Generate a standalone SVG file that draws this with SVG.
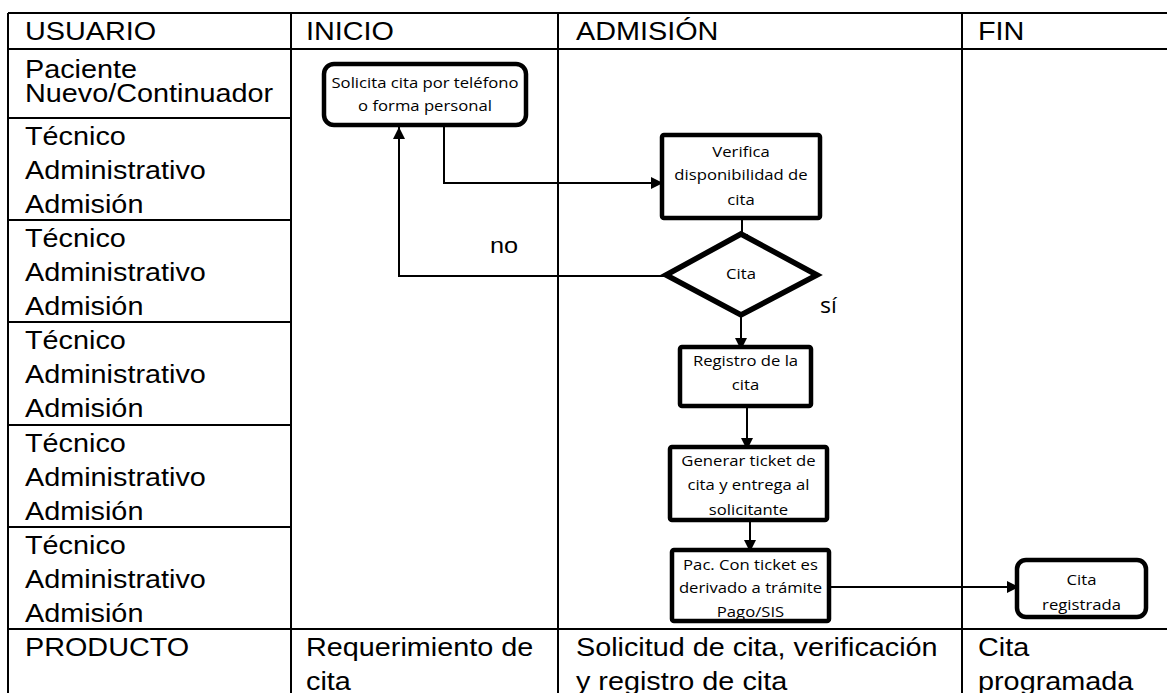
<svg xmlns="http://www.w3.org/2000/svg" width="1167" height="693" viewBox="0 0 1167 693">
<style>
.grid{stroke:#000;stroke-width:2;fill:none}
.t{font-family:"Liberation Sans",Arial,sans-serif;font-size:25.5px;fill:#000}
.n{font-family:"Open Sans","Noto Sans",sans-serif;font-size:14.5px;fill:#000;text-anchor:middle}
.box{fill:#fff;stroke:#000;stroke-width:4.5}
.con{stroke:#000;stroke-width:2;fill:none}
</style>
<defs>
<marker id="arr" markerUnits="userSpaceOnUse" markerWidth="14" markerHeight="14" refX="12" refY="6" orient="auto">
<path d="M0,0 L12,6 L0,12 z" fill="#000"/>
</marker>
</defs>
<rect width="1167" height="693" fill="#fff"/>
<g id="table">
<path class="grid" d="M8,13 H1167 M8,49 H1167 M8,629 H1167 M8,118 H291 M8,220 H291 M8,322 H291 M8,425 H291 M8,527 H291 M8,13 V693 M291,13 V693 M558,13 V693 M962,13 V693"/>
<g transform="scale(1.13,1)">
<text class="t" x="22.1" y="40">USUARIO</text>
<text class="t" x="270.8" y="40">INICIO</text>
<text class="t" x="509.7" y="40">ADMISIÓN</text>
<text class="t" x="865.5" y="40">FIN</text>
<text class="t" x="22.1" y="78">Paciente</text>
<text class="t" x="22.1" y="102">Nuevo/Continuador</text>
<text class="t" x="22.1" y="145">Técnico</text>
<text class="t" x="22.1" y="179">Administrativo</text>
<text class="t" x="22.1" y="213">Admisión</text>
<text class="t" x="22.1" y="247">Técnico</text>
<text class="t" x="22.1" y="281">Administrativo</text>
<text class="t" x="22.1" y="315">Admisión</text>
<text class="t" x="22.1" y="349">Técnico</text>
<text class="t" x="22.1" y="383">Administrativo</text>
<text class="t" x="22.1" y="417">Admisión</text>
<text class="t" x="22.1" y="452">Técnico</text>
<text class="t" x="22.1" y="486">Administrativo</text>
<text class="t" x="22.1" y="520">Admisión</text>
<text class="t" x="22.1" y="554">Técnico</text>
<text class="t" x="22.1" y="588">Administrativo</text>
<text class="t" x="22.1" y="622">Admisión</text>
<text class="t" x="22.1" y="656">PRODUCTO</text>
<text class="t" x="270.8" y="656">Requerimiento de</text>
<text class="t" x="270.8" y="690">cita</text>
<text class="t" x="509.7" y="656">Solicitud de cita, verificación</text>
<text class="t" x="509.7" y="690">y registro de cita</text>
<text class="t" x="865.5" y="656">Cita</text>
<text class="t" x="865.5" y="690">programada</text>
</g>
</g>
<g id="connectors">
<path class="con" d="M444,127 V183 H663" marker-end="url(#arr)"/>
<path class="con" d="M742,220 V246" marker-end="url(#arr)"/>
<path class="con" d="M665,276 H399 V127" marker-end="url(#arr)"/>
<path class="con" d="M741,316 V350" marker-end="url(#arr)"/>
<path class="con" d="M747,408 V450" marker-end="url(#arr)"/>
<path class="con" d="M750,522 V552" marker-end="url(#arr)"/>
<path class="con" d="M831,587 H1019" marker-end="url(#arr)"/>
<text x="0" y="253" style="font-family:'Liberation Sans',Arial,sans-serif;font-size:22px" transform="translate(490,0) scale(1.15,1)">no</text>
<text x="0" y="313" style="font-family:'Open Sans','Noto Sans',sans-serif;font-size:21px" transform="translate(820,0) scale(1.1,1)">sí</text>
</g>
<g id="n1">
<rect class="box" x="324" y="64" width="202" height="61" rx="10"/>
<text class="n" x="0" y="88" transform="translate(425,0) scale(1.15,1)">Solicita cita por teléfono</text>
<text class="n" x="0" y="111" transform="translate(425,0) scale(1.15,1)">o forma personal</text>
</g>
<g id="n2">
<rect class="box" x="662" y="135" width="158" height="83" rx="2"/>
<text class="n" x="0" y="157" transform="translate(741,0) scale(1.15,1)">Verifica</text>
<text class="n" x="0" y="180" transform="translate(741,0) scale(1.15,1)">disponibilidad de</text>
<text class="n" x="0" y="205" transform="translate(741,0) scale(1.15,1)">cita</text>
</g>
<g id="n3">
<polygon class="box" points="741,234 817,275 741,315 666,275" style="stroke-width:5.5"/>
<text class="n" x="0" y="279" transform="translate(741,0) scale(1.15,1)">Cita</text>
</g>
<g id="n4">
<rect class="box" x="680" y="347" width="131" height="59" rx="2"/>
<text class="n" x="0" y="366" transform="translate(745.5,0) scale(1.15,1)">Registro de la</text>
<text class="n" x="0" y="390" transform="translate(745.5,0) scale(1.15,1)">cita</text>
</g>
<g id="n5">
<rect class="box" x="670" y="447" width="157" height="73" rx="2"/>
<text class="n" x="0" y="466" transform="translate(748.5,0) scale(1.15,1)">Generar ticket de</text>
<text class="n" x="0" y="490" transform="translate(748.5,0) scale(1.15,1)">cita y entrega al</text>
<text class="n" x="0" y="515" transform="translate(748.5,0) scale(1.15,1)">solicitante</text>
</g>
<g id="n6">
<rect class="box" x="672" y="550" width="157" height="71" rx="2"/>
<text class="n" x="0" y="570" transform="translate(750.5,0) scale(1.15,1)">Pac. Con ticket es</text>
<text class="n" x="0" y="593" transform="translate(750.5,0) scale(1.15,1)">derivado a trámite</text>
<text class="n" x="0" y="617" transform="translate(750.5,0) scale(1.15,1)">Pago/SIS</text>
</g>
<g id="n7">
<rect class="box" x="1017" y="560" width="129" height="57" rx="9"/>
<text class="n" x="0" y="585" transform="translate(1081.5,0) scale(1.15,1)">Cita</text>
<text class="n" x="0" y="610" transform="translate(1081.5,0) scale(1.15,1)">registrada</text>
</g>
</svg>
